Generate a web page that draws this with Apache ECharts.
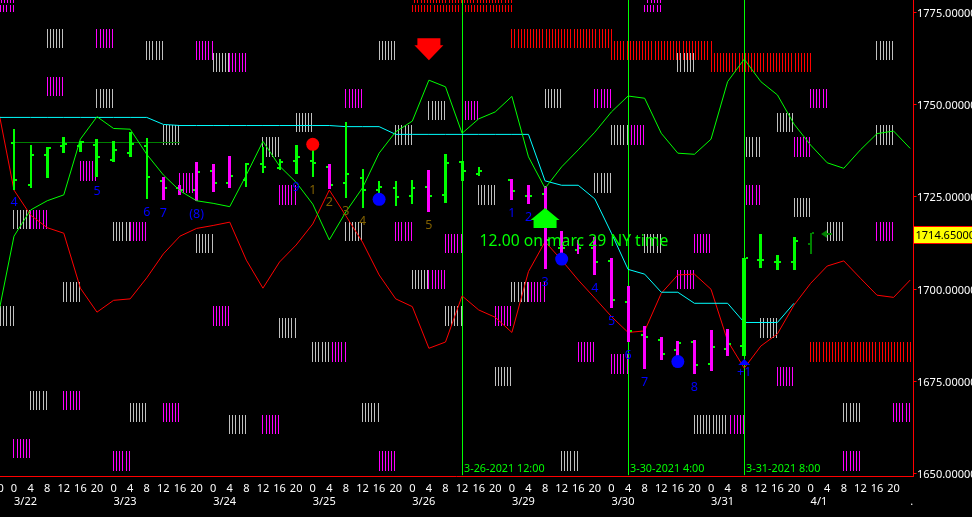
<!DOCTYPE html>
<html><head><meta charset="utf-8">
<style>html,body{margin:0;padding:0;background:#000;overflow:hidden}#c{width:972px;height:517px}</style>
<script src="https://cdn.jsdelivr.net/npm/echarts@6/dist/echarts.min.js"></script>
</head><body><div id="c"></div>
<script>
const hourLabels = ['20','0','4','8','12','16','20','0','4','8','12','16','20','0','4','8','12','16','20','0','4','8','12','16','20','0','4','8','12','16','20','0','4','8','12','16','20','0','4','8','12','16','20','0','4','8','12','16','20','0','4','8','12','16','20',''];
const dayLabelIdx = [1,7,13,19,25,31,37,43,49,55];
const dayLabels = ['3/22','3/23','3/24','3/25','3/26','3/29','3/30','3/31','4/1','.'];
const yTicks = [1650,1675,1700,1725,1750,1775];
const currentPrice = 1714.65;

const greenLine = [1691.8,1714.3,1721.4,1723.9,1725.5,1740.6,1746.7,1743.5,1743.3,1736.5,1730.9,1726.6,1723.9,1723.2,1722.3,1730.9,1740.0,1733.3,1728.9,1723.0,1713.3,1720.9,1727.4,1736.8,1742.6,1745.5,1756.6,1754.8,1742.2,1746.1,1748.0,1752.2,1735.8,1727.3,1733.1,1737.7,1742.5,1748.0,1752.3,1751.7,1742.2,1736.8,1736.5,1740.6,1756.2,1762.3,1756.2,1752.6,1744.7,1739.0,1734.2,1732.7,1737.7,1742.1,1742.8,1738.1];
const redLine = [1749.9,1726.8,1720.0,1716.6,1715.1,1700.2,1693.7,1696.9,1697.3,1703.0,1709.5,1714.3,1716.4,1717.2,1718.1,1707.8,1700.2,1707.3,1711.9,1717.6,1726.8,1719.8,1712.7,1703.8,1697.3,1695.2,1683.9,1685.6,1698.1,1694.3,1692.3,1688.2,1704.7,1712.8,1707.8,1702.4,1697.5,1692.5,1688.2,1688.6,1698.8,1703.8,1704.0,1699.9,1685.9,1678.5,1684.5,1687.8,1695.6,1701.5,1706.2,1707.6,1702.9,1698.3,1697.7,1702.4];
const cyanLine = [1746.5,1746.5,1746.5,1746.5,1746.5,1746.5,1746.5,1746.5,1746.5,1746.5,1744.6,1744.3,1744.3,1744.3,1744.3,1744.3,1744.3,1744.3,1744.3,1744.3,1744.3,1744.0,1744.0,1744.0,1741.9,1741.9,1741.9,1741.9,1741.9,1741.9,1741.9,1741.9,1741.9,1729.3,1728.1,1728.1,1724.4,1715.1,1705.3,1704.0,1699.1,1699.1,1696.1,1696.1,1696.1,1690.9,1690.9,1690.9,1696.1];
const levelIdx = [1,11];
const levelPrice = 1739.7;

// [index, high, low, open, close]
const greenBars = [[1,1743.4,1726.8,1739.6,1729.5],[2,1739.0,1727.4,1728.2,1736.4],[3,1738.5,1730.2,1736.3,1738.3],[4,1741.2,1736.8,1738.8,1739.3],[5,1740.1,1737.1,1738.8,1739.8],[6,1740.6,1730.2,1739.0,1735.8],[7,1740.1,1734.5,1735.0,1737.7],[8,1742.5,1735.6,1736.9,1739.3],[9,1740.9,1724.4,1738.7,1730.4],[15,1734.1,1727.6,1729.5,1733.9],[16,1738.5,1731.4,1733.9,1733.1],[17,1735.2,1732.2,1732.8,1734.4],[18,1739.0,1731.2,1734.7,1735.8],[19,1737.7,1730.3,1734.7,1734.1],[21,1745.3,1724.6,1728.8,1731.2],[22,1732.5,1721.9,1730.1,1726.8],[23,1729.3,1725.5,1726.8,1727.6],[24,1729.3,1722.5,1727.4,1724.9],[25,1729.5,1723.0,1725.2,1727.4],[27,1736.6,1723.3,1725.5,1734.1],[28,1734.7,1729.3,1734.4,1732.0],[29,1733.1,1730.6,1731.2,1732.0],[45,1708.4,1681.8,1684.5,1708.4],[46,1714.9,1705.7,1707.9,1707.9],[47,1709.2,1705.1,1707.3,1707.3],[48,1714.1,1705.1,1707.4,1713.1]];
const magentaBars = [[10,1730.3,1724.1,1729.3,1727.4],[11,1728.2,1725.5,1727.4,1726.9],[12,1734.4,1723.8,1726.8,1731.7],[13,1733.9,1726.3,1732.0,1728.8],[14,1736.0,1727.4,1728.8,1730.7],[20,1733.9,1727.1,1733.1,1728.2],[26,1732.2,1720.9,1727.6,1725.2],[31,1729.8,1724.1,1729.5,1726.5],[32,1728.2,1723.0,1725.2,1725.2],[33,1727.9,1705.4,1725.7,1713.3],[34,1715.7,1709.7,1711.1,1711.1],[35,1713.3,1709.5,1710.5,1711.1],[36,1714.1,1703.8,1711.1,1707.3],[37,1708.4,1694.8,1707.6,1697.0],[38,1700.8,1685.7,1696.4,1688.6],[39,1689.9,1678.3,1687.5,1687.0],[40,1687.0,1680.7,1686.1,1682.3],[41,1685.9,1681.3,1683.4,1685.4],[42,1686.1,1676.9,1685.6,1679.4],[43,1688.9,1677.7,1679.6,1684.3],[44,1689.1,1681.8,1683.7,1685.1]];
const lastBar = [[49,1715.2,1709.5,1712.2,1715.2]];
const thinBars = [1,2,9,15,16,17,19,21,22,23,24,25,29,35,49];
const thickBars = [45];

// [startIndex, endIndex, top price, bottom price]
const whiteBlocks = [[3,4,1770.47,1765.32],[9,10,1767.2,1762.07],[13,14,1763.96,1758.8],[6,7,1754.2,1749.05],[10,11,1744.44,1739.0],[18,19,1747.7,1742.54],[16,17,1741.2,1735.77],[1,2,1721.4,1716.25],[7,8,1718.15,1713],[12,13,1714.9,1709.75],[23,24,1767.2,1762.07],[33,34,1754.2,1749.05],[26,27,1750.95,1745.8],[24,25,1744.44,1739.0],[37,38,1744.44,1739.0],[36,37,1731.4,1726.0],[29,30,1728.2,1722.75],[21,22,1718.15,1713],[39,40,1714.9,1709.75],[41,42,1763.96,1758.8],[53,54,1767.2,1762.07],[47,48,1747.7,1742.54],[45.15,46,1741.2,1735.77],[53,54,1744.44,1739.0],[48,49,1724.65,1719.5],[50,51,1718.15,1713],[0.2,1,1695.4,1690],[4,5,1701.9,1696.5],[17,18,1692.15,1686.7],[19,20,1685.6,1680.2],[2,3,1672.4,1667.2],[8,9,1669.1,1664],[14,15,1665.9,1660.7],[25,26,1705.15,1700],[27,28,1695.4,1690],[31,32,1701.9,1696.5],[30,31,1678.9,1673.7],[22,23,1669.1,1664],[34,35,1656.1,1650.7],[46,47,1692.15,1686.7],[42,44,1665.9,1660.7],[51,52,1669.1,1664]];
const magentaBlocks = [[0.2,1,1777,1775.1],[0.25,1,1782,1777.5],[6,7,1770.47,1765.32],[12,13,1767.2,1762.07],[14,15,1763.96,1758.8],[3,4,1757.46,1752.3],[5,6,1734.7,1729.26],[11,12,1731.4,1726.0],[17,18,1728.2,1722.75],[2,3,1721.4,1716.25],[8,9,1718.15,1713],[21,22,1754.2,1749.05],[36,37,1754.2,1749.05],[28.2,29,1750.95,1745.8],[38.2,39,1744.44,1739.0],[24,25,1718.15,1713],[27,28,1714.9,1709.75],[39.2,40,1782,1777.5],[39,40,1777,1775.1],[42,43,1714.9,1709.75],[49,50,1754.2,1749.05],[48,49,1741.2,1735.77],[45.15,46,1728.2,1722.75],[53,54,1718.15,1713],[13,14,1695.4,1690],[20.2,21,1685.6,1680.2],[4,5,1672.4,1667.2],[10,11,1669.1,1664],[16,17,1665.9,1660.7],[1,2,1659.4,1654.2],[7,8,1656.1,1650.7],[26,27,1705.15,1700],[30,31,1695.4,1690],[32,33,1701.9,1696.5],[35,36,1685.6,1680.2],[37,38,1682.4,1677],[23,24,1656.1,1650.7],[41,42,1705.15,1700],[47,48,1678.9,1673.7],[44.2,45,1665.9,1660.7],[54,55,1669.1,1664],[51,52,1656.1,1650.7]];
const redBlocks = [[25.15,31,1782,1777.5],[25,31,1777,1775.1],[31,37,1770.47,1765.32],[37,43,1767.2,1762.07],[43,49,1763.96,1758.8],[49,55,1685.6,1680.2]];

const vlineIdx = [28,38,45];
const vlineLabels = ['3-26-2021 12:00','3-30-2021 4:00','3-31-2021 8:00'];
// [index, price, text]
const blueLabels = [[1,1723.8,'4'],[6,1726.8,'5'],[9,1721.1,'6'],[10,1720.9,'7'],[12,1720.6,'(8)'],[18,1727.9,'9'],[31,1720.9,'1'],[32,1719.8,'2'],[33,1702.1,'3'],[36,1700.5,'4'],[37,1691.6,'5'],[38,1682.3,'6'],[39,1675.0,'7'],[42,1673.7,'8'],[45,1677.7,'+1']];
const olive = [[19,1727.1,'1'],[20,1723.8,'2'],[21,1721.4,'3'],[22,1718.7,'4'],[26,1717.6,'5']];
const note = [[29.05,1713.3,'12.00 on marc 29 NY time']];
const redDots = [[19,1739.2]];
const blueDots = [[23,1724.3],[34,1708.1],[41,1680.3]];
const downArrows = [[26,1765.0]];
const upArrows = [[33,1719.2]];
const leftArrows = [[49.96,1714.9]];
const blueTriangles = [[45,1680.2]];

const FONT='"Noto Sans"';
const yMin=1649.19,yMax=1778.335,xMax=55.2;
const crisp=v=>Math.floor(v)+.5;
const pairs=a=>a.map((v,i)=>[i,v]);

function blockSeries(data,color){
  return {type:'custom',silent:true,clip:true,data,encode:{x:[0,1],y:[2,3]},z:1,
    renderItem(p,api){
      const s=api.value(0),e=api.value(1),t=api.value(2),b=api.value(3);
      const step=0.1875,n=Math.floor((e-s)/step+1e-6)+1;
      const kids=[];
      for(let k=0;k<n;k++){
        const a=api.coord([s+k*step,t]),c=api.coord([s+k*step,b]);
        const x=crisp(a[0]);
        kids.push({type:'line',shape:{x1:x,y1:Math.round(a[1]),x2:x,y2:Math.round(c[1])},style:{stroke:color,lineWidth:1}});
      }
      return {type:'group',children:kids};
    }};
}
function barSeries(data,color,tickColor){
  return {type:'custom',silent:true,data,encode:{x:0,y:[1,2,3,4]},z:4,
    renderItem(p,api){
      const i=api.value(0),hi=api.coord([i,api.value(1)]),lo=api.coord([i,api.value(2)]);
      const o=api.coord([i,api.value(3)]),c=api.coord([i,api.value(4)]);
      const w=thinBars.includes(i)?2:thickBars.includes(i)?4:3;
      const x0=Math.round(hi[0]-w/2);
      return {type:'group',children:[
        {type:'rect',shape:{x:x0-2,y:Math.round(o[1])-1,width:2,height:2},style:{fill:tickColor}},
        {type:'rect',shape:{x:x0+w,y:Math.round(c[1])-1,width:2,height:2},style:{fill:tickColor}},
        {type:'rect',shape:{x:x0,y:Math.round(hi[1]),width:w,height:Math.round(lo[1]-hi[1])},style:{fill:color}}
      ]};
    }};
}
function textSeries(data,color,size,align,dx){
  return {type:'custom',silent:true,clip:false,data:data.map(d=>[d[0],d[1]]),encode:{x:0,y:1},z:7,
    renderItem(p,api){
      const c=api.coord([api.value(0),api.value(1)]);
      return {type:'text',x:c[0]+(dx||0),y:c[1]+1.5,style:{text:data[p.dataIndex][2],fill:color,font:size+'px '+FONT,align:align||'center',verticalAlign:'middle'}};
    }};
}
function markSeries(data,symbol,size,color,z){
  return {type:'scatter',silent:true,data,symbol,symbolSize:size,itemStyle:{color,opacity:1},z:z||6};
}
function lineSeries(data,color,width,z){
  return {type:'line',silent:true,data,showSymbol:false,symbol:'none',lineStyle:{color,width},z:z||3};
}

const chart=echarts.init(document.getElementById('c'),null,{renderer:'canvas'});
chart.setOption({
  animation:false,backgroundColor:'#000',
  grid:{left:-2.6,top:0,width:916.1,height:476.3,containLabel:false,outerBoundsMode:'none'},
  xAxis:[
    {type:'value',min:0,max:xMax,interval:1,position:'bottom',splitLine:{show:false},axisTick:{show:false},
     axisLine:{onZero:false,lineStyle:{color:'#ff0000',width:1}},
     axisLabel:{color:'#fff',fontFamily:FONT,fontSize:11,margin:7,showMinLabel:true,showMaxLabel:false,hideOverlap:false,
       formatter:v=>Number.isInteger(v)?hourLabels[v]||'':''}},
    {type:'value',min:0,max:xMax,interval:1,position:'bottom',splitLine:{show:false},axisTick:{show:false},axisLine:{show:false,onZero:false},
     axisLabel:{color:'#fff',fontFamily:FONT,fontSize:11,margin:20,align:'left',showMinLabel:true,showMaxLabel:false,hideOverlap:false,
       formatter:v=>{const k=dayLabelIdx.indexOf(v);return k>=0?dayLabels[k]:'';}}}
  ],
  yAxis:{type:'value',min:yMin,max:yMax,position:'right',splitLine:{show:false},
    axisLine:{show:true,onZero:false,lineStyle:{color:'#ff0000',width:1}},
    axisTick:{show:true,length:3,lineStyle:{color:'#ff0000'},customValues:yTicks},
    axisLabel:{show:false,customValues:yTicks}},
  series:[
    blockSeries(whiteBlocks,'#c0c0c0'),
    blockSeries(magentaBlocks,'#ff00ff'),
    blockSeries(redBlocks,'#ff0000'),
    lineSeries(pairs(redLine),'#ff0000',1),
    lineSeries(pairs(cyanLine),'#00ffff',1),
    lineSeries(levelIdx.map(i=>[i,levelPrice]),'#008000',1),
    Object.assign(lineSeries(pairs(greenLine),'#00ff00',1),{z:5}),
    {type:'custom',silent:true,clip:false,z:2,data:vlineIdx.map(i=>[i,1649.5]),encode:{x:0,y:1},
     renderItem(p,api){
       const a=api.coord([api.value(0),api.value(1)]),x=crisp(a[0]);
       return {type:'group',children:[
         {type:'line',shape:{x1:x,y1:0,x2:x,y2:a[1]},style:{stroke:'#00ff00',lineWidth:1}},
         {type:'text',x:x+1.5,y:a[1]-6,style:{text:vlineLabels[p.dataIndex],fill:'#00ff00',font:'10.8px '+FONT,verticalAlign:'middle'}}
       ]};
     }},
    barSeries(greenBars,'#00ff00','#00ff00'),
    barSeries(magentaBars,'#ff00ff','#00ff00'),
    barSeries(lastBar,'#008000','#008000'),
    markSeries(redDots,'circle',13,'#ff0000'),
    markSeries(blueDots,'circle',13,'#0000ff'),
    markSeries(downArrows,'path://M3 0H26V7H29L14.5 22L0 7H3Z',[29,22],'#ff0000'),
    markSeries(upArrows,'path://M14.5 0L29 12H26V20H3V12H0Z',[29,20],'#00ff00'),
    markSeries(leftArrows,'path://M0 4L6 0V3H11V5H6V8Z',[11,8],'#008000'),
    markSeries(blueTriangles,'triangle',[12,6],'#0000ff'),
    textSeries(blueLabels,'#0000ff',12.5),
    textSeries(olive,'#806000',12.5),
    textSeries(note,'#00ff00',15.7,'left'),
    textSeries(yTicks.map(v=>[xMax,v,v.toFixed(5)]),'#ffffff',11,'left',3.5),
    {type:'custom',silent:true,clip:false,z:8,data:[[xMax,currentPrice]],encode:{x:0,y:1},
     renderItem(p,api){
       const c=api.coord([api.value(0),api.value(1)]);
       return {type:'group',children:[
         {type:'rect',shape:{x:Math.round(c[0])+.5,y:Math.round(c[1])-8.5,width:62,height:17},style:{fill:'#ffff00',stroke:'#ff0000',lineWidth:1}},
         {type:'text',x:c[0]+2,y:c[1]+1,style:{text:currentPrice.toFixed(5),fill:'#000',font:'11px '+FONT,verticalAlign:'middle'}}
       ]};
     }}
  ]
});
</script></body></html>
